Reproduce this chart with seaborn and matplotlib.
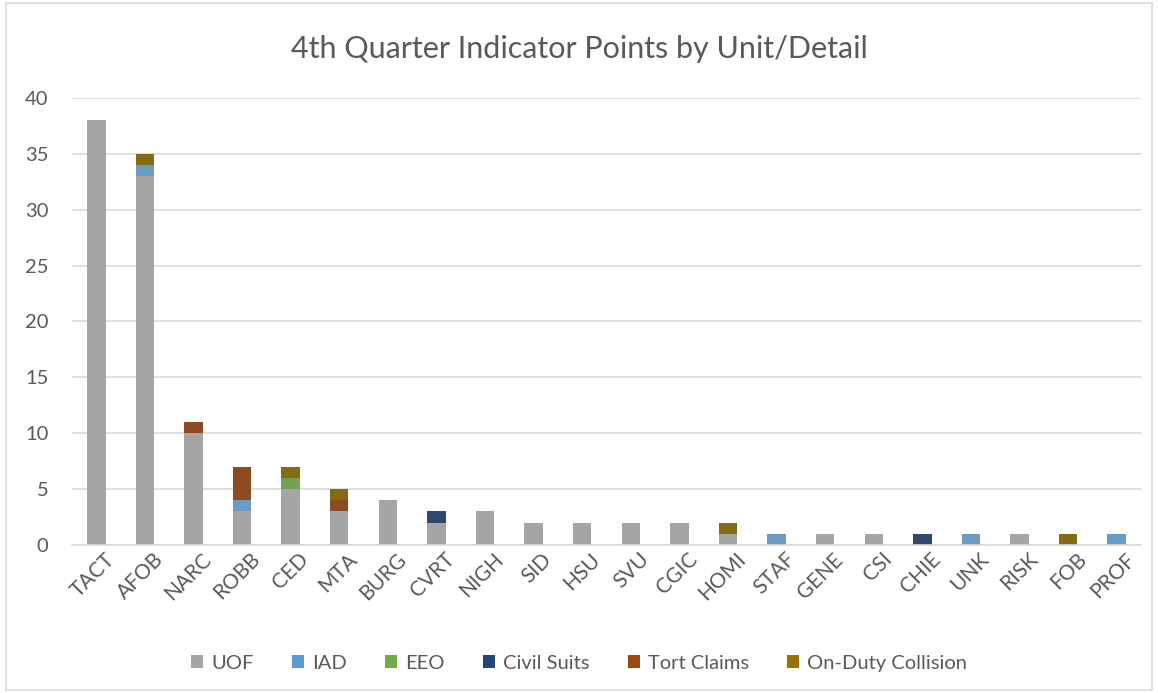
import matplotlib
matplotlib.use("Agg")
import matplotlib.pyplot as plt
import matplotlib.transforms as mtransforms
import seaborn as sns
import pandas as pd
import numpy as np
from matplotlib.patches import Rectangle, Patch

categories = ["TACT", "AFOB", "NARC", "ROBB", "CED", "MTA", "BURG", "CVRT", "NIGH", "SID", "HSU",
              "SVU", "CGIC", "HOMI", "STAF", "GENE", "CSI", "CHIE", "UNK", "RISK", "FOB", "PROF"]
uof =         [38, 33, 10, 3, 5, 3, 4, 2, 3, 2, 2, 2, 2, 1, 0, 1, 1, 0, 0, 1, 0, 0]
iad =         [0, 1, 0, 1, 0, 0, 0, 0, 0, 0, 0, 0, 0, 0, 1, 0, 0, 0, 1, 0, 0, 1]
eeo =         [0, 0, 0, 0, 1, 0, 0, 0, 0, 0, 0, 0, 0, 0, 0, 0, 0, 0, 0, 0, 0, 0]
civil_suits = [0, 0, 0, 0, 0, 0, 0, 1, 0, 0, 0, 0, 0, 0, 0, 0, 0, 1, 0, 0, 0, 0]
tort_claims = [0, 0, 1, 3, 0, 1, 0, 0, 0, 0, 0, 0, 0, 0, 0, 0, 0, 0, 0, 0, 0, 0]
on_duty =     [0, 1, 0, 0, 1, 1, 0, 0, 0, 0, 0, 0, 0, 1, 0, 0, 0, 0, 0, 0, 1, 0]

series_names = ["UOF", "IAD", "EEO", "Civil Suits", "Tort Claims", "On-Duty Collision"]
series_values = [uof, iad, eeo, civil_suits, tort_claims, on_duty]
colors = ["#A5A5A5", "#5B9BD5", "#70AD47", "#264478", "#9E480E", "#997300"]

title = "4th Quarter Indicator Points by Unit/Detail"
text_color = "#595959"

sns.set_theme(style="white")
plt.rcParams['font.family'] = ['Lato', 'DejaVu Sans']

fig = plt.figure(figsize=(11.58, 6.93), dpi=100)
ax = fig.add_axes([0.0622, 0.2136, 0.9231, 0.645])

bottom = np.zeros(len(categories))
for name, vals, col in zip(series_names, series_values, colors):
    df = pd.DataFrame({"unit": categories, "value": vals})
    sns.barplot(data=df, x="unit", y="value", order=categories, color=col,
                bottom=bottom, width=0.38, linewidth=0, ax=ax, errorbar=None)
    bottom = bottom + np.array(vals)

ax.set_ylim(0, 40)
ax.set_xlim(-0.5, len(categories) - 0.5)
ax.set_yticks(range(0, 41, 5))
ax.yaxis.grid(True, color="#D9D9D9", linewidth=1.2)
ax.set_axisbelow(True)
for s in ["top", "right", "left"]:
    ax.spines[s].set_visible(False)
ax.spines["bottom"].set_color("#D9D9D9")
ax.spines["bottom"].set_linewidth(1.2)
ax.set_xlabel("")
ax.set_ylabel("")
ax.tick_params(axis="y", labelsize=14.5, colors=text_color, length=0, pad=17)
ax.tick_params(axis="x", labelsize=15, colors=text_color, length=0, pad=3)
offset = mtransforms.ScaledTranslation(8 / 100, 0, fig.dpi_scale_trans)
for lbl in ax.get_xticklabels():
    lbl.set_rotation(45)
    lbl.set_ha("right")
    lbl.set_rotation_mode("anchor")
    lbl.set_transform(lbl.get_transform() + offset)

fig.text(0.5, 0.93, title, ha="center", va="center", fontsize=22, color=text_color)

handles = [Patch(facecolor=c, edgecolor="none") for c in colors]
fig.legend(handles, series_names, loc="center", bbox_to_anchor=(0.5, 0.043), ncol=6,
           frameon=False, fontsize=14.5, labelcolor=text_color, handlelength=0.6,
           handleheight=0.6, handletextpad=0.4, columnspacing=1.9)

fig.patches.append(Rectangle((0.005, 0.005), 0.99, 0.99, transform=fig.transFigure,
                             fill=False, edgecolor="#D9D9D9", linewidth=1.2))

fig.savefig("out.png", dpi=100, facecolor="white")
